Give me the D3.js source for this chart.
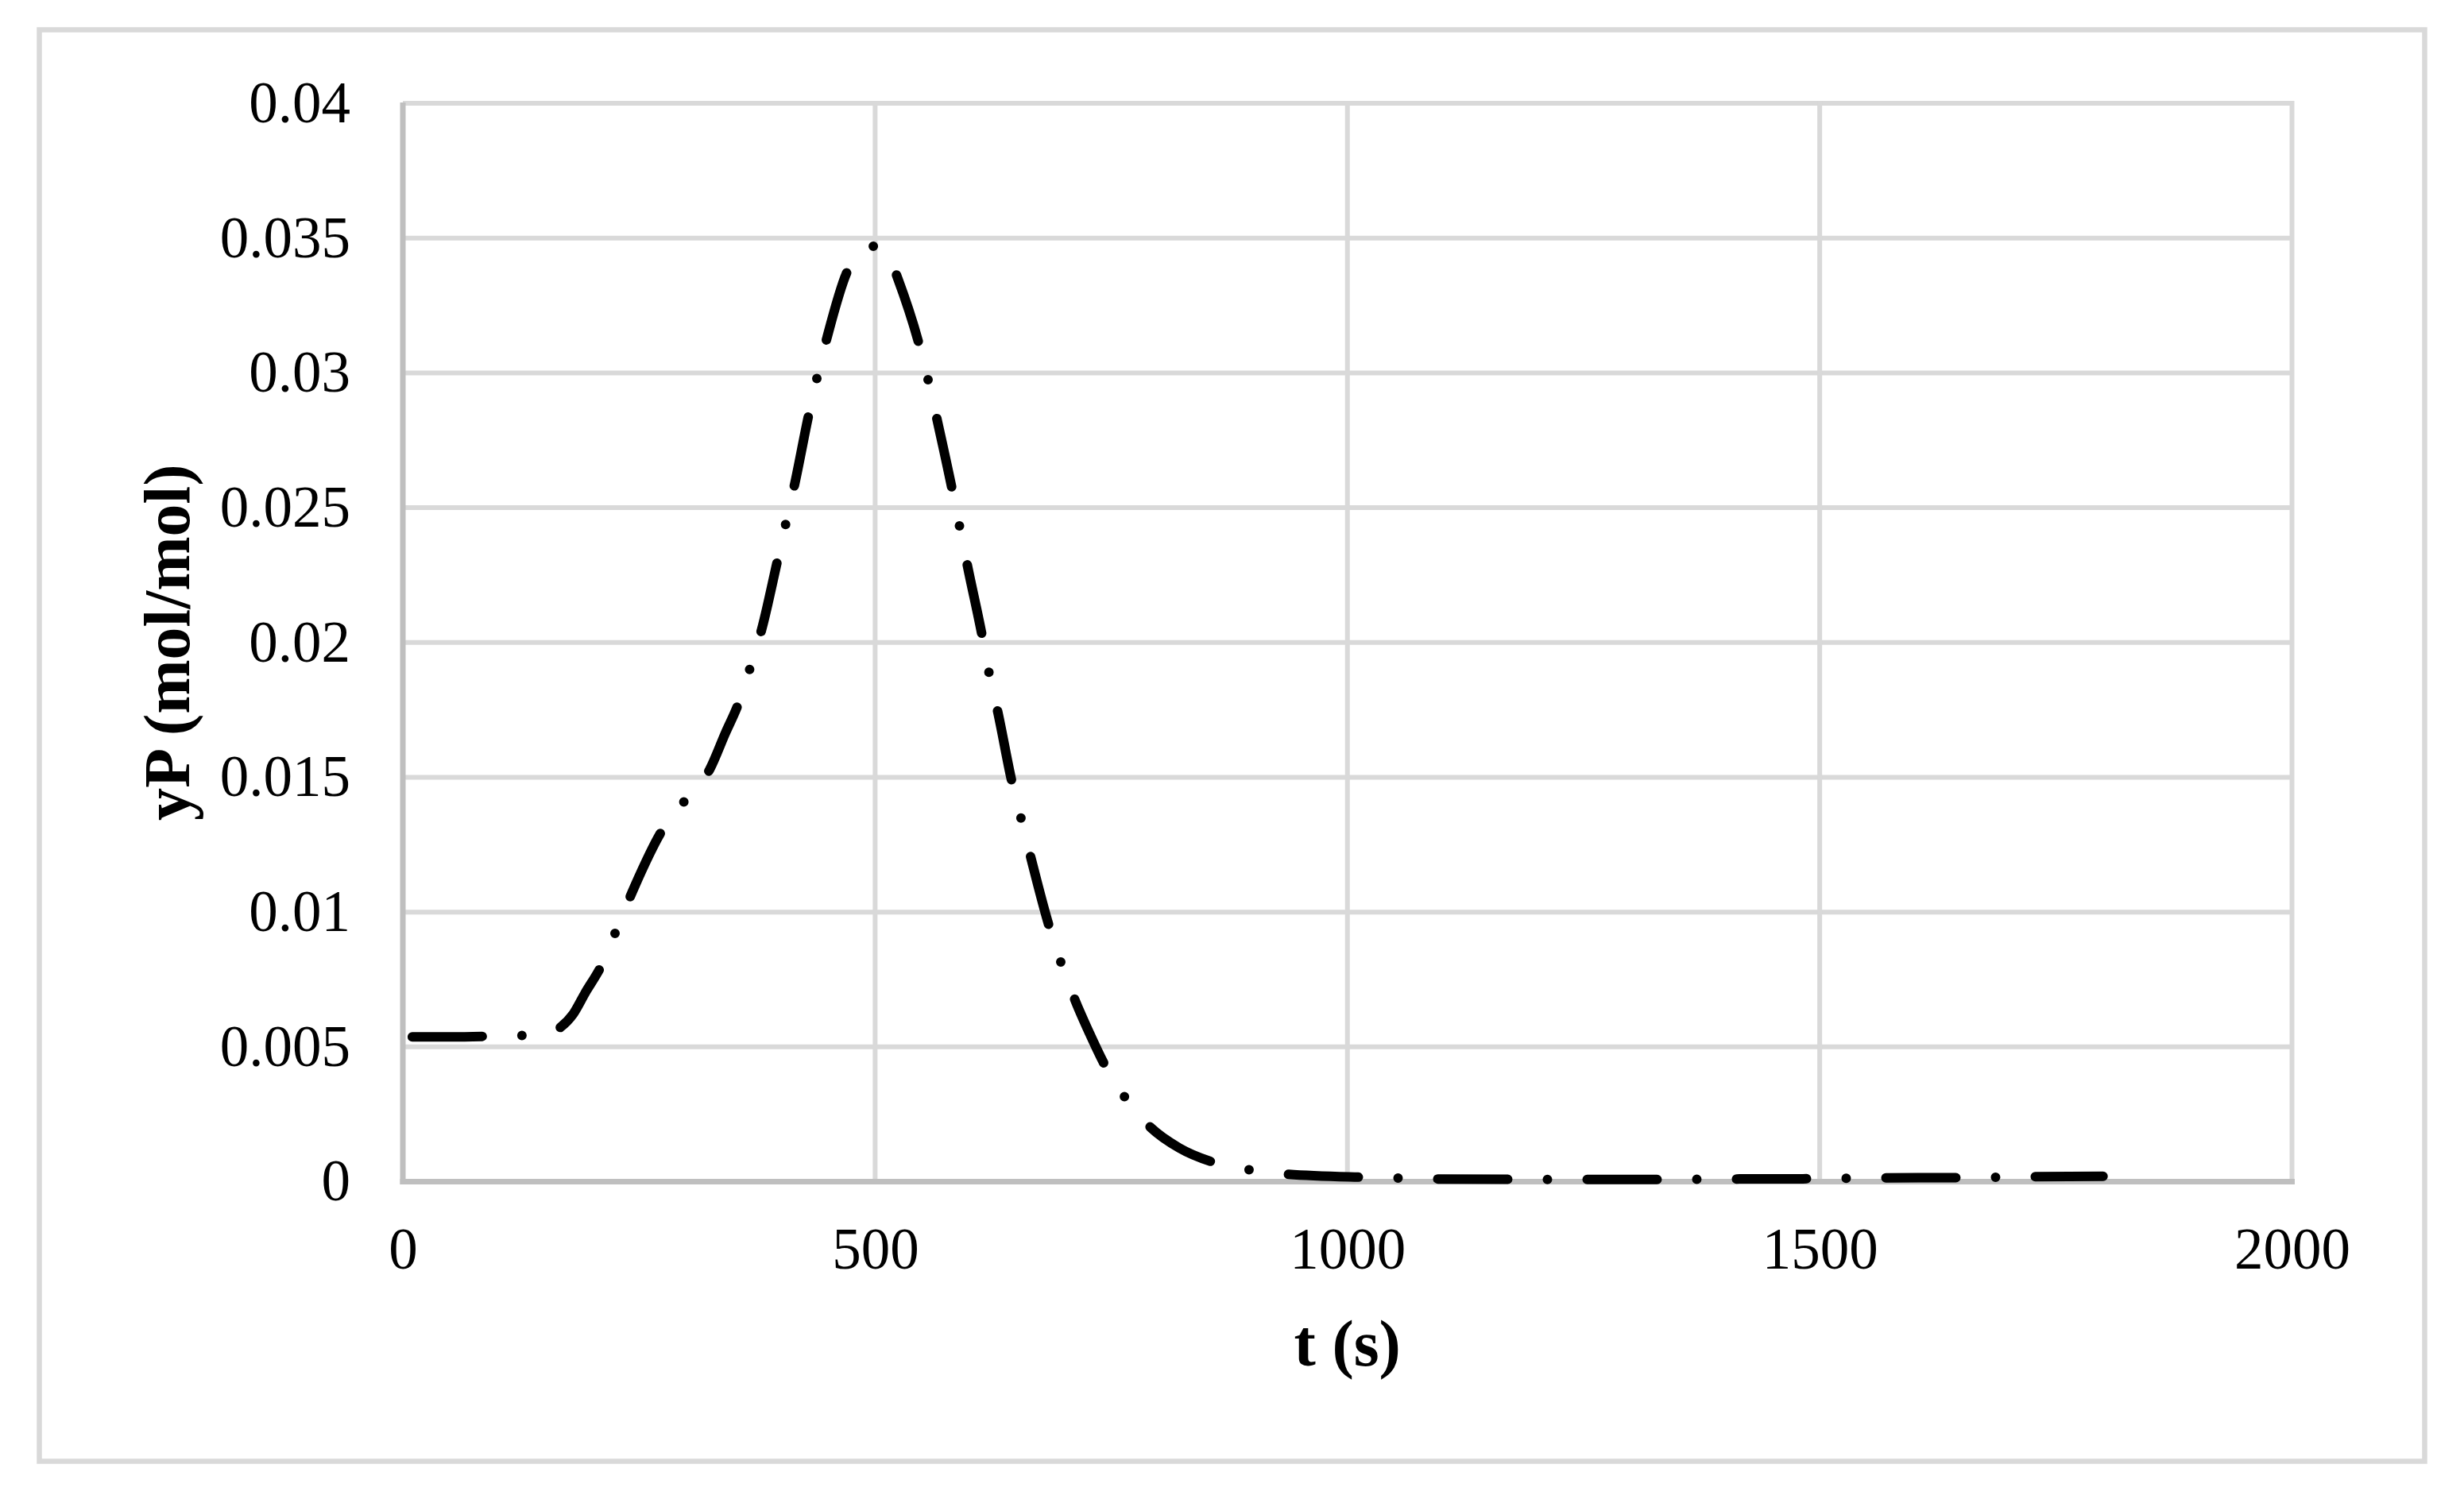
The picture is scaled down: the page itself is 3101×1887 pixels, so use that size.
<!DOCTYPE html>
<html>
<head>
<meta charset="utf-8">
<script src="https://cdn.jsdelivr.net/npm/d3@7"></script>
<style>
  body { margin: 0; background: #fff; }
  text { font-family: "Liberation Serif", "Times New Roman", serif; fill: #000; }
</style>
</head>
<body>
<script>
// values
var time = [10, 50, 100, 130, 150, 167, 180, 193, 210, 228, 246, 274, 300, 325, 341, 356, 368, 380,
    397, 406, 415, 430, 439, 449, 471, 485, 500, 515, 524, 547, 557, 566, 582, 590, 598, 613,
    621, 630, 645, 655, 665, 684, 697, 712, 727, 742, 765, 792, 822, 858, 898, 934, 1018, 1055,
    1093, 1175, 1250, 1333, 1415, 1500, 1565, 1648, 1686, 1724, 1800];
var yP = [0.00537, 0.00537, 0.0054, 0.00543, 0.0055, 0.00573, 0.0062, 0.007, 0.008, 0.0095, 0.011,
    0.013, 0.0142, 0.0153, 0.0166, 0.0178, 0.0191, 0.0205, 0.0231, 0.0245, 0.0259, 0.0285, 0.0299,
    0.0313, 0.0338, 0.0345, 0.0347, 0.0343, 0.0335, 0.031, 0.0296, 0.0282, 0.0256, 0.0242, 0.0228,
    0.0203, 0.0188, 0.0174, 0.0148, 0.0134, 0.012, 0.0095, 0.0081, 0.0067, 0.0055, 0.0044, 0.0031,
    0.002, 0.00125, 0.00072, 0.00043, 0.00028, 0.00016, 0.00013, 0.0001, 0.00009, 0.00008, 0.00008,
    0.0001, 0.00011, 0.00014, 0.00015, 0.00016, 0.00018, 0.0002];

var xTicks = [0, 500, 1000, 1500, 2000];
var yTicks = [0, 0.005, 0.01, 0.015, 0.02, 0.025, 0.03, 0.035, 0.04];
var yTickLabels = ["0", "0.005", "0.01", "0.015", "0.02", "0.025", "0.03", "0.035", "0.04"];

var W = 3101, H = 1887;
var plotL = 507, plotR = 2884.5, plotT = 130, plotB = 1487.5;

var svg = d3.select("body").append("svg")
    .attr("width", W)
    .attr("height", H);

svg.append("rect")
    .attr("width", W)
    .attr("height", H)
    .attr("fill", "#fff");

// chart border
svg.append("rect")
    .attr("x", 49.5)
    .attr("y", 37.5)
    .attr("width", 3002)
    .attr("height", 1802)
    .attr("fill", "none")
    .attr("stroke", "#d9d9d9")
    .attr("stroke-width", 6.5);

var x = d3.scaleLinear().domain([0, 2000]).range([plotL, plotR]);
var y = d3.scaleLinear().domain([0, 0.04]).range([plotB, plotT]);

// gridlines
svg.append("g")
    .selectAll("line")
    .data(yTicks.slice(1))
    .enter().append("line")
    .attr("x1", plotL)
    .attr("x2", plotR)
    .attr("y1", function(d) { return y(d); })
    .attr("y2", function(d) { return y(d); })
    .attr("stroke", "#d9d9d9")
    .attr("stroke-width", 6);

svg.append("g")
    .selectAll("line")
    .data(xTicks.slice(1))
    .enter().append("line")
    .attr("x1", function(d) { return x(d); })
    .attr("x2", function(d) { return x(d); })
    .attr("y1", plotT - 3)
    .attr("y2", plotB)
    .attr("stroke", "#d9d9d9")
    .attr("stroke-width", 6);

// axes, labels only (lines drawn separately)
var yAxis = svg.append("g")
    .attr("transform", "translate(" + plotL + ",0)")
    .call(d3.axisLeft(y)
        .tickValues(yTicks)
        .tickFormat(function(d, i) { return yTickLabels[i]; })
        .tickSize(0)
        .tickPadding(66));

var xAxis = svg.append("g")
    .attr("transform", "translate(0," + plotB + ")")
    .call(d3.axisBottom(x)
        .tickValues(xTicks)
        .tickFormat(d3.format("d"))
        .tickSize(0)
        .tickPadding(58));

[xAxis, yAxis].forEach(function(a) {
    a.select(".domain").remove();
    a.selectAll("text")
        .attr("font-family", "Liberation Serif, Times New Roman, serif")
        .attr("font-size", 73)
        .attr("fill", "#000");
});

svg.append("line")
    .attr("x1", plotL).attr("x2", plotL)
    .attr("y1", plotT - 1).attr("y2", plotB + 3.5)
    .attr("stroke", "#bfbfbf")
    .attr("stroke-width", 7);

svg.append("line")
    .attr("x1", plotL - 3.5).attr("x2", plotR + 3.5)
    .attr("y1", plotB).attr("y2", plotB)
    .attr("stroke", "#bfbfbf")
    .attr("stroke-width", 7);

// series, long dash dot
var line = d3.line()
    .x(function(d) { return x(d[0]); })
    .y(function(d) { return y(d[1]); })
    .curve(d3.curveMonotoneX);

svg.append("path")
    .datum(d3.zip(time, yP))
    .attr("d", line)
    .attr("fill", "none")
    .attr("stroke", "#000")
    .attr("stroke-width", 12)
    .attr("stroke-linecap", "round")
    .attr("stroke-linejoin", "round")
    .attr("stroke-dasharray", "88,50,0,50");

// axis titles
svg.append("text")
    .attr("x", (plotL + plotR) / 2)
    .attr("y", 1719)
    .attr("text-anchor", "middle")
    .attr("font-weight", "bold")
    .attr("font-size", 82)
    .text("t (s)");

svg.append("text")
    .attr("transform", "translate(238," + (plotT + plotB) / 2 + ") rotate(-90)")
    .attr("text-anchor", "middle")
    .attr("font-weight", "bold")
    .attr("font-size", 82)
    .text("yP (mol/mol)");
</script>
</body>
</html>
